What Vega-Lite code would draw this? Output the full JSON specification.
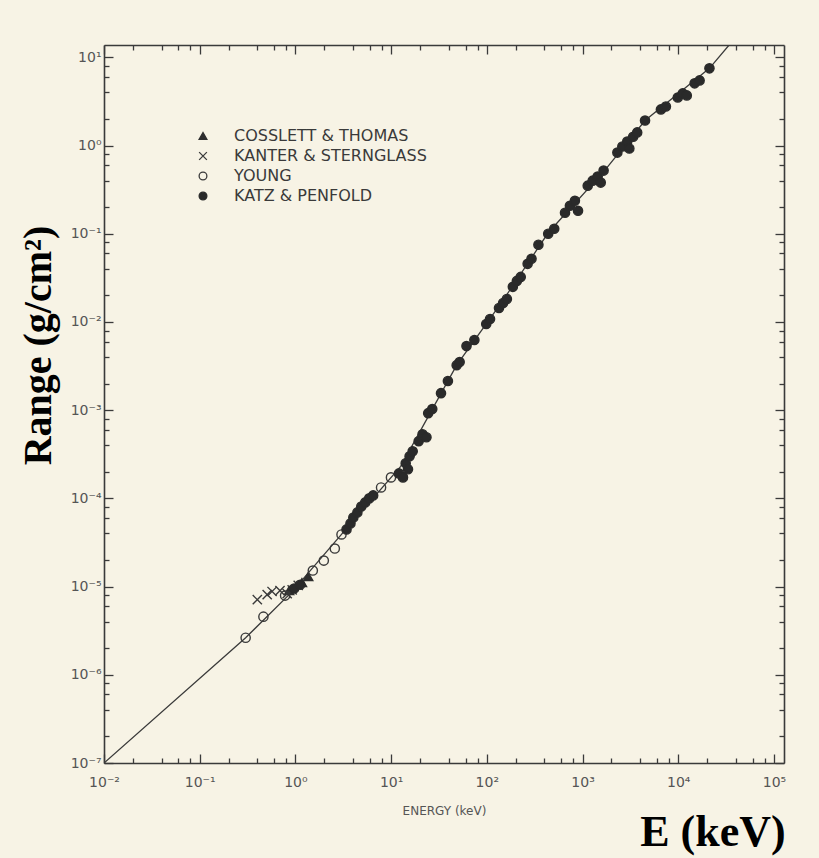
{
  "$schema": "https://vega.github.io/schema/vega-lite/v6.json",
  "width": 680,
  "height": 718,
  "autosize": "none",
  "padding": {"left": 104, "top": 45, "right": 35, "bottom": 95},
  "background": "#f7f3e5",
  "config": {"view": {"stroke": null}},
  "title": {"text": "E (keV)", "orient": "bottom", "anchor": "end", "font": "Liberation Serif", "fontSize": 44, "fontWeight": "bold", "color": "#000000", "offset": -5},
  "datasets": {
    "curve": [
      {"E": 0.01, "R": 1e-7},
      {"E": 0.302, "R": 2.63e-6},
      {"E": 0.925, "R": 8.77e-6},
      {"E": 3.03, "R": 3.9e-5},
      {"E": 12.6, "R": 2.31e-4},
      {"E": 48.4, "R": 3.24e-3},
      {"E": 144, "R": 0.01687},
      {"E": 438, "R": 0.1026},
      {"E": 1698, "R": 0.52},
      {"E": 4500, "R": 1.92},
      {"E": 21180, "R": 7.5},
      {"E": 34000, "R": 13.8}
    ],
    "points": [
      {"src": "COSSLETT & THOMAS", "E": 0.86, "R": 9.0e-6},
      {"src": "COSSLETT & THOMAS", "E": 1.17, "R": 1.11e-5},
      {"src": "COSSLETT & THOMAS", "E": 1.36, "R": 1.3e-5},
      {"src": "KANTER & STERNGLASS", "E": 0.40, "R": 7.1e-6},
      {"src": "KANTER & STERNGLASS", "E": 0.507, "R": 8.1e-6},
      {"src": "KANTER & STERNGLASS", "E": 0.57, "R": 8.8e-6},
      {"src": "KANTER & STERNGLASS", "E": 0.69, "R": 9.0e-6},
      {"src": "KANTER & STERNGLASS", "E": 0.82, "R": 8.3e-6},
      {"src": "KANTER & STERNGLASS", "E": 0.925, "R": 9.2e-6},
      {"src": "KANTER & STERNGLASS", "E": 1.07, "R": 1.03e-5},
      {"src": "YOUNG", "E": 0.302, "R": 2.63e-6},
      {"src": "YOUNG", "E": 0.463, "R": 4.56e-6},
      {"src": "YOUNG", "E": 0.78, "R": 7.9e-6},
      {"src": "YOUNG", "E": 1.52, "R": 1.52e-5},
      {"src": "YOUNG", "E": 1.98, "R": 1.97e-5},
      {"src": "YOUNG", "E": 2.58, "R": 2.7e-5},
      {"src": "YOUNG", "E": 3.03, "R": 3.9e-5},
      {"src": "YOUNG", "E": 7.85, "R": 1.33e-4},
      {"src": "YOUNG", "E": 9.96, "R": 1.73e-4},
      {"src": "KATZ & PENFOLD", "E": 0.97, "R": 9.5e-6},
      {"src": "KATZ & PENFOLD", "E": 1.12, "R": 1.05e-5},
      {"src": "KATZ & PENFOLD", "E": 3.42, "R": 4.45e-5},
      {"src": "KATZ & PENFOLD", "E": 3.76, "R": 5.2e-5},
      {"src": "KATZ & PENFOLD", "E": 4.03, "R": 6.08e-5},
      {"src": "KATZ & PENFOLD", "E": 4.44, "R": 6.93e-5},
      {"src": "KATZ & PENFOLD", "E": 4.88, "R": 8.1e-5},
      {"src": "KATZ & PENFOLD", "E": 5.36, "R": 9.0e-5},
      {"src": "KATZ & PENFOLD", "E": 5.90, "R": 1.0e-4},
      {"src": "KATZ & PENFOLD", "E": 6.49, "R": 1.08e-4},
      {"src": "KATZ & PENFOLD", "E": 12.06, "R": 1.92e-4},
      {"src": "KATZ & PENFOLD", "E": 13.3, "R": 1.73e-4},
      {"src": "KATZ & PENFOLD", "E": 14.2, "R": 2.5e-4},
      {"src": "KATZ & PENFOLD", "E": 15.6, "R": 3.0e-4},
      {"src": "KATZ & PENFOLD", "E": 16.8, "R": 3.42e-4},
      {"src": "KATZ & PENFOLD", "E": 15.0, "R": 2.14e-4},
      {"src": "KATZ & PENFOLD", "E": 19.4, "R": 4.45e-4},
      {"src": "KATZ & PENFOLD", "E": 21.3, "R": 5.33e-4},
      {"src": "KATZ & PENFOLD", "E": 23.4, "R": 4.93e-4},
      {"src": "KATZ & PENFOLD", "E": 24.4, "R": 9.25e-4},
      {"src": "KATZ & PENFOLD", "E": 26.9, "R": 1.03e-3},
      {"src": "KATZ & PENFOLD", "E": 33.2, "R": 1.56e-3},
      {"src": "KATZ & PENFOLD", "E": 39.2, "R": 2.14e-3},
      {"src": "KATZ & PENFOLD", "E": 48.4, "R": 3.24e-3},
      {"src": "KATZ & PENFOLD", "E": 52.0, "R": 3.51e-3},
      {"src": "KATZ & PENFOLD", "E": 61.3, "R": 5.33e-3},
      {"src": "KATZ & PENFOLD", "E": 74.1, "R": 6.24e-3},
      {"src": "KATZ & PENFOLD", "E": 98.6, "R": 9.49e-3},
      {"src": "KATZ & PENFOLD", "E": 108, "R": 0.0108},
      {"src": "KATZ & PENFOLD", "E": 134, "R": 0.0144},
      {"src": "KATZ & PENFOLD", "E": 148, "R": 0.0164},
      {"src": "KATZ & PENFOLD", "E": 162, "R": 0.0182},
      {"src": "KATZ & PENFOLD", "E": 187, "R": 0.025},
      {"src": "KATZ & PENFOLD", "E": 206, "R": 0.0292},
      {"src": "KATZ & PENFOLD", "E": 226, "R": 0.0324},
      {"src": "KATZ & PENFOLD", "E": 267, "R": 0.0456},
      {"src": "KATZ & PENFOLD", "E": 293, "R": 0.052},
      {"src": "KATZ & PENFOLD", "E": 346, "R": 0.075},
      {"src": "KATZ & PENFOLD", "E": 438, "R": 0.1},
      {"src": "KATZ & PENFOLD", "E": 506, "R": 0.114},
      {"src": "KATZ & PENFOLD", "E": 656, "R": 0.173},
      {"src": "KATZ & PENFOLD", "E": 738, "R": 0.208},
      {"src": "KATZ & PENFOLD", "E": 832, "R": 0.237},
      {"src": "KATZ & PENFOLD", "E": 897, "R": 0.182},
      {"src": "KATZ & PENFOLD", "E": 1133, "R": 0.351},
      {"src": "KATZ & PENFOLD", "E": 1276, "R": 0.4},
      {"src": "KATZ & PENFOLD", "E": 1439, "R": 0.445},
      {"src": "KATZ & PENFOLD", "E": 1660, "R": 0.52},
      {"src": "KATZ & PENFOLD", "E": 1549, "R": 0.38},
      {"src": "KATZ & PENFOLD", "E": 2312, "R": 0.832},
      {"src": "KATZ & PENFOLD", "E": 2606, "R": 0.975},
      {"src": "KATZ & PENFOLD", "E": 2932, "R": 1.11},
      {"src": "KATZ & PENFOLD", "E": 3381, "R": 1.26},
      {"src": "KATZ & PENFOLD", "E": 3724, "R": 1.41},
      {"src": "KATZ & PENFOLD", "E": 3083, "R": 0.925},
      {"src": "KATZ & PENFOLD", "E": 4498, "R": 1.92},
      {"src": "KATZ & PENFOLD", "E": 6590, "R": 2.57},
      {"src": "KATZ & PENFOLD", "E": 7430, "R": 2.77},
      {"src": "KATZ & PENFOLD", "E": 9890, "R": 3.51},
      {"src": "KATZ & PENFOLD", "E": 11140, "R": 3.9},
      {"src": "KATZ & PENFOLD", "E": 12280, "R": 3.7},
      {"src": "KATZ & PENFOLD", "E": 14830, "R": 5.07},
      {"src": "KATZ & PENFOLD", "E": 16720, "R": 5.48},
      {"src": "KATZ & PENFOLD", "E": 21180, "R": 7.5}
    ]
  },
  "layer": [
    {
      "data": {"name": "curve"},
      "mark": {"type": "line", "color": "#3a3a3a", "strokeWidth": 1.3, "clip": true},
      "encoding": {
        "x": {
          "field": "E", "type": "quantitative",
          "scale": {"type": "log", "domain": [0.01, 127350], "nice": false},
          "axis": {
            "orient": "bottom",
            "values": [0.01,0.02,0.04,0.06,0.08,0.1,0.2,0.4,0.6,0.8,1,2,4,6,8,10,20,40,60,80,100,200,400,600,800,1000,2000,4000,6000,8000,10000,20000,40000,60000,80000,100000],
            "labelExpr": "abs(log(datum.value)/LN10 - round(log(datum.value)/LN10)) < 0.01 ? '10' + ['⁻⁷','⁻⁶','⁻⁵','⁻⁴','⁻³','⁻²','⁻¹','⁰','¹','²','³','⁴','⁵'][round(log(datum.value)/LN10)+7] : ''",
            "tickSize": {"condition": {"test": "abs(log(datum.value)/LN10 - round(log(datum.value)/LN10)) < 0.01", "value": -9}, "value": -5},
            "tickColor": "#3a3a3a", "tickWidth": 1.3,
            "domainColor": "#3a3a3a", "domainWidth": 1.6,
            "labelFont": "DejaVu Sans", "labelFontSize": 14, "labelColor": "#555555",
            "labelPadding": 21, "labelFlush": false, "labelOverlap": false,
            "grid": false,
            "title": "ENERGY (keV)", "titleFont": "DejaVu Sans", "titleFontSize": 12, "titleFontWeight": "normal", "titleColor": "#555555", "titlePadding": 12
          }
        },
        "y": {
          "field": "R", "type": "quantitative",
          "scale": {"type": "log", "domain": [1e-7, 13.8], "nice": false},
          "axis": {
            "orient": "left",
            "values": [1e-7,2e-7,4e-7,6e-7,8e-7,1e-6,2e-6,4e-6,6e-6,8e-6,1e-5,2e-5,4e-5,6e-5,8e-5,1e-4,2e-4,4e-4,6e-4,8e-4,1e-3,2e-3,4e-3,6e-3,8e-3,1e-2,2e-2,4e-2,6e-2,8e-2,0.1,0.2,0.4,0.6,0.8,1,2,4,6,8,10],
            "labelExpr": "abs(log(datum.value)/LN10 - round(log(datum.value)/LN10)) < 0.01 ? '10' + ['⁻⁷','⁻⁶','⁻⁵','⁻⁴','⁻³','⁻²','⁻¹','⁰','¹','²','³','⁴','⁵'][round(log(datum.value)/LN10)+7] : ''",
            "tickSize": {"condition": {"test": "abs(log(datum.value)/LN10 - round(log(datum.value)/LN10)) < 0.01", "value": -9}, "value": -5},
            "tickColor": "#3a3a3a", "tickWidth": 1.3,
            "domainColor": "#3a3a3a", "domainWidth": 1.6,
            "labelFont": "DejaVu Sans", "labelFontSize": 14, "labelColor": "#555555",
            "labelPadding": 12, "labelFlush": false, "labelOverlap": false,
            "grid": false,
            "title": "Range (g/cm²)", "titleFont": "Liberation Serif", "titleFontSize": 40, "titleFontWeight": "bold", "titleColor": "#000000",
            "titleAngle": -90, "titleAlign": "center", "titleBaseline": "middle", "titleX": -66, "titleY": 300
          }
        }
      }
    },
    {
      "data": {"name": "points"},
      "mark": {"type": "point", "size": 85, "strokeWidth": 1.4, "opacity": 1},
      "encoding": {
        "x": {
          "field": "E", "type": "quantitative",
          "scale": {"type": "log", "domain": [0.01, 127350], "nice": false},
          "axis": {
            "orient": "top",
            "values": [0.01,0.02,0.04,0.06,0.08,0.1,0.2,0.4,0.6,0.8,1,2,4,6,8,10,20,40,60,80,100,200,400,600,800,1000,2000,4000,6000,8000,10000,20000,40000,60000,80000,100000],
            "labels": false, "title": null, "grid": false,
            "tickSize": {"condition": {"test": "abs(log(datum.value)/LN10 - round(log(datum.value)/LN10)) < 0.01", "value": -9}, "value": -5},
            "tickColor": "#3a3a3a", "tickWidth": 1.3,
            "domainColor": "#3a3a3a", "domainWidth": 1.6
          }
        },
        "y": {
          "field": "R", "type": "quantitative",
          "scale": {"type": "log", "domain": [1e-7, 13.8], "nice": false},
          "axis": {
            "orient": "right",
            "values": [1e-7,2e-7,4e-7,6e-7,8e-7,1e-6,2e-6,4e-6,6e-6,8e-6,1e-5,2e-5,4e-5,6e-5,8e-5,1e-4,2e-4,4e-4,6e-4,8e-4,1e-3,2e-3,4e-3,6e-3,8e-3,1e-2,2e-2,4e-2,6e-2,8e-2,0.1,0.2,0.4,0.6,0.8,1,2,4,6,8,10],
            "labels": false, "title": null, "grid": false,
            "tickSize": {"condition": {"test": "abs(log(datum.value)/LN10 - round(log(datum.value)/LN10)) < 0.01", "value": -9}, "value": -5},
            "tickColor": "#3a3a3a", "tickWidth": 1.3,
            "domainColor": "#3a3a3a", "domainWidth": 1.6
          }
        },
        "shape": {
          "field": "src", "type": "nominal",
          "scale": {"domain": ["COSSLETT & THOMAS", "KANTER & STERNGLASS", "YOUNG", "KATZ & PENFOLD"], "range": ["triangle-up", "M-1,-1L1,1M-1,1L1,-1", "circle", "circle"]},
          "legend": {
            "orient": "none", "legendX": 91, "legendY": 83, "title": null,
            "labelFont": "DejaVu Sans", "labelFontSize": 16, "labelColor": "#3a3a3a", "labelLimit": 0,
            "labelOffset": 23, "rowPadding": 4, "symbolSize": 60, "symbolStrokeWidth": 1.3, "padding": 0
          }
        },
        "fill": {
          "field": "src", "type": "nominal",
          "scale": {"domain": ["COSSLETT & THOMAS", "KANTER & STERNGLASS", "YOUNG", "KATZ & PENFOLD"], "range": ["#2e2e2e", "transparent", "transparent", "#2a2a2a"]}
        },
        "stroke": {
          "field": "src", "type": "nominal",
          "scale": {"domain": ["COSSLETT & THOMAS", "KANTER & STERNGLASS", "YOUNG", "KATZ & PENFOLD"], "range": ["#2e2e2e", "#3a3a3a", "#3a3a3a", "#2a2a2a"]}
        }
      }
    }
  ],
  "resolve": {"axis": {"x": "independent", "y": "independent"}}
}
